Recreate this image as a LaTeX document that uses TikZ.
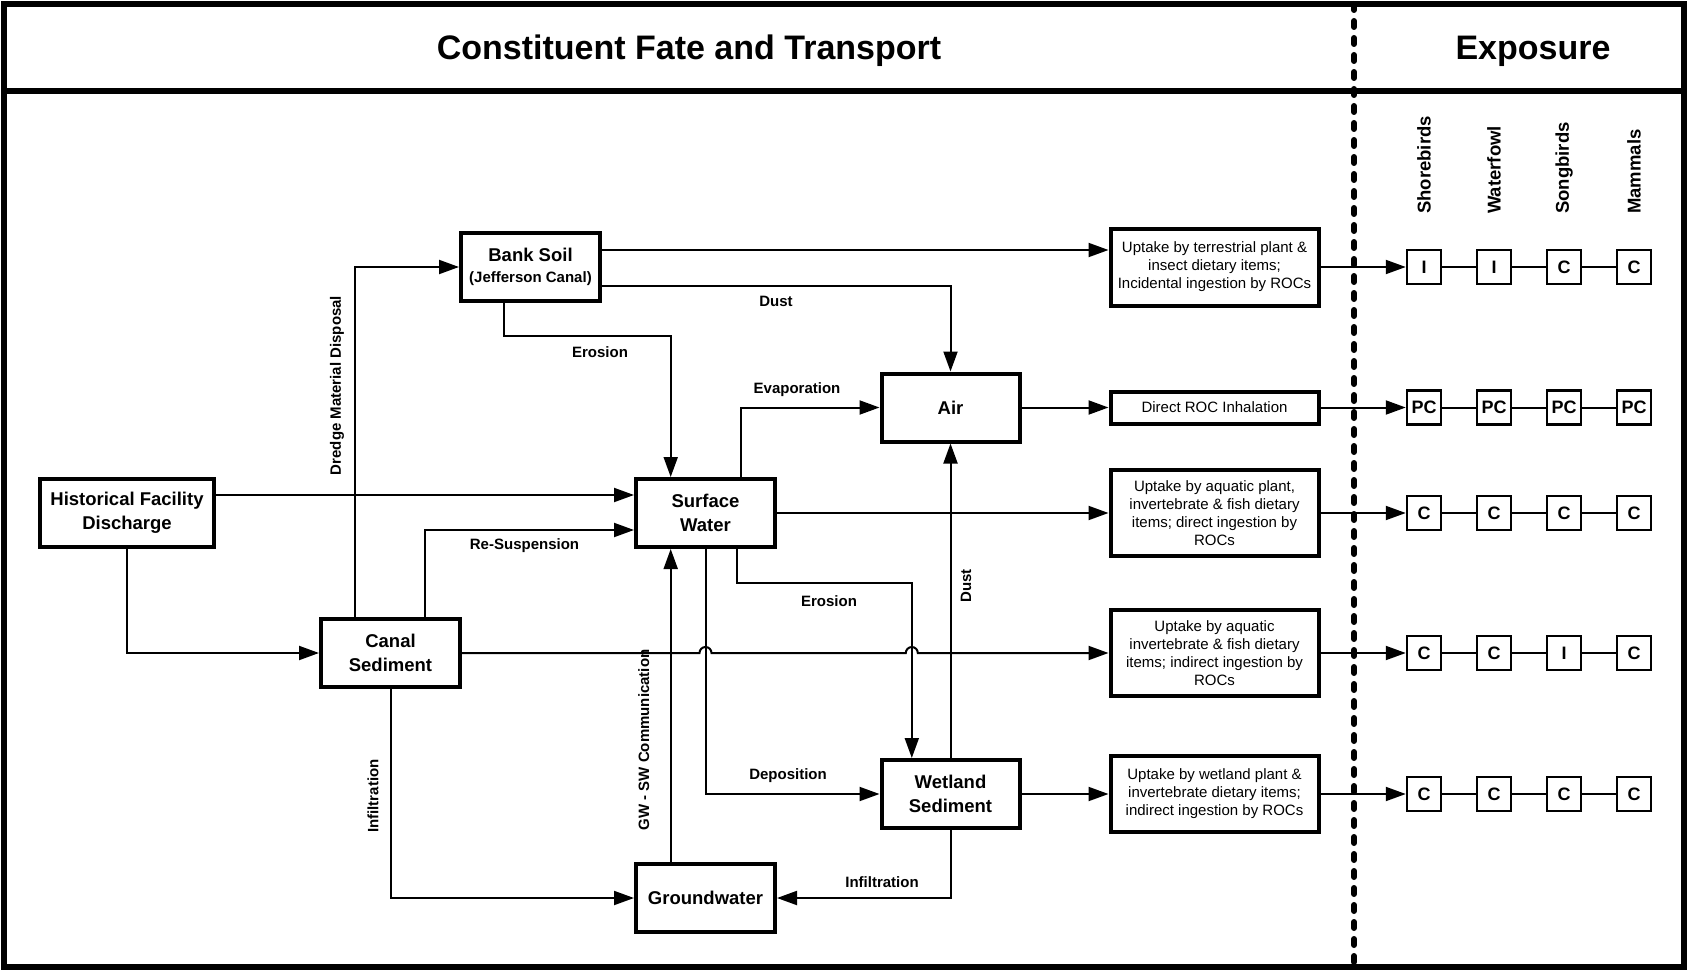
\documentclass[tikz,border=0pt]{standalone}
\usepackage{fontspec}
\setmainfont{Liberation Sans}
\usetikzlibrary{arrows.meta}
\tikzset{
  mbox/.style={draw, line width=4pt, font=\bfseries\fontsize{18.5}{23.5}\selectfont, align=center, inner sep=2pt, minimum width=139pt, minimum height=68pt},
  rbox/.style={draw, line width=4pt, font=\fontsize{15}{18}\selectfont, align=center, inner sep=2pt, minimum width=208pt},
  sbox/.style={draw, line width=2.5pt, font=\bfseries\fontsize{18}{20}\selectfont, inner sep=0pt, minimum size=34pt},
  conn/.style={line width=2pt, -{Triangle[length=20pt,width=14pt]}},
  plain/.style={line width=2pt},
  clab/.style={font=\bfseries\fontsize{15}{18}\selectfont, inner sep=0pt},
  rlab/.style={font=\bfseries\fontsize{15}{18}\selectfont, inner sep=0pt, rotate=90},
  slab/.style={font=\bfseries\fontsize{18.5}{20}\selectfont, inner sep=0pt, rotate=90, anchor=west},
  ttl/.style={font=\bfseries\fontsize{34}{40}\selectfont, inner sep=0pt}
}
\begin{document}
\begin{tikzpicture}[x=1pt,y=-1pt]
\useasboundingbox (0,0) rectangle (1688,971);
% frame
\draw[line width=6pt] (4,4) rectangle (1684,967);
\draw[line width=6pt] (4,91.5) -- (1684,91.5);
\draw[line width=6pt, line cap=round, dash pattern=on 6pt off 11pt] (1354,4) -- (1354,967);
\node[ttl] (t1) at (689,51) {Constituent Fate and Transport};
\node[ttl] (t2) at (1533,51) {Exposure};

% main boxes
\node[mbox] (bank) at (530.5,267) {Bank Soil\\[-3pt]{\fontsize{15}{18}\selectfont (Jefferson Canal)}};
\node[mbox, minimum width=174pt] (hfd) at (127,513) {Historical Facility\\Discharge};
\node[mbox] (sw) at (705.5,513) {Surface\\Water};
\node[mbox, minimum width=138pt] (air) at (950.5,407.5) {Air};
\node[mbox] (canal) at (390.5,653) {Canal\\Sediment};
\node[mbox, minimum width=138pt] (wet) at (950.5,794) {Wetland\\Sediment};
\node[mbox] (gw) at (705.5,898) {Groundwater};

% right boxes
\node[rbox, minimum height=77pt] (r1) at (1214.5,267) {Uptake by terrestrial plant \&\\insect dietary items;\\Incidental ingestion by ROCs};
\node[rbox, minimum height=32pt] (r2) at (1214.5,407.5) {Direct ROC Inhalation};
\node[rbox, minimum height=85.5pt] (r3) at (1214.5,513) {Uptake by aquatic plant,\\invertebrate \& fish dietary\\items; direct ingestion by\\ROCs};
\node[rbox, minimum height=85.5pt] (r4) at (1214.5,653) {Uptake by aquatic\\invertebrate \& fish dietary\\items; indirect ingestion by\\ROCs};
\node[rbox, minimum height=76.5pt] (r5) at (1214.5,794) {Uptake by wetland plant \&\\invertebrate dietary items;\\indirect ingestion by ROCs};

% species labels
\node[slab] (sp1) at (1424,214) {Shorebirds};
\node[slab] (sp2) at (1494,214) {Waterfowl};
\node[slab] (sp3) at (1564,214) {Songbirds};
\node[slab] (sp4) at (1634,214) {Mammals};

% small boxes
\foreach \r/\y/\a/\b/\c/\d in {1/267/I/I/C/C, 2/407.5/PC/PC/PC/PC, 3/513/C/C/C/C, 4/653/C/C/I/C, 5/794/C/C/C/C}{
  \node[sbox] (s\r a) at (1424,\y) {\a};
  \node[sbox] (s\r b) at (1494,\y) {\b};
  \node[sbox] (s\r c) at (1564,\y) {\c};
  \node[sbox] (s\r d) at (1634,\y) {\d};
  \draw[conn] (r\r.east) -- (s\r a.west);
  \draw[plain] (s\r a.east) -- (s\r b.west);
  \draw[plain] (s\r b.east) -- (s\r c.west);
  \draw[plain] (s\r c.east) -- (s\r d.west);
}

% connectors
\draw[conn] ([yshift=17pt]bank.east) -- ([yshift=17pt]r1.west);
\draw[conn] ([yshift=-18.5pt]bank.east) -| (air.north);
\coordinate (e1a) at (504,336);
\coordinate (e1b) at (670.7,336);
\draw[conn] ([xshift=-26.5pt]bank.south) -- (e1a) -- (e1b) -- ([xshift=-34.8pt]sw.north);
\draw[conn] ([yshift=18pt]hfd.east) -- ([yshift=18pt]sw.west);
\draw[conn] (hfd.south) |- (canal.west);
\draw[conn] ([xshift=-35.5pt]canal.north) |- (bank.west);
\draw[conn] ([xshift=34.5pt]canal.north) |- ([yshift=-17pt]sw.west);
\draw[conn] ([xshift=35pt]sw.north) |- (air.west);
\draw[conn] (air.east) -- (r2.west);
\draw[conn] (sw.east) -- (r3.west);
\draw[conn] (wet.north) -- (air.south);
\coordinate (e2a) at (736.5,582.5);
\coordinate (e2b) at (911.8,582.5);
\draw[conn] ([xshift=31pt]sw.south) -- (e2a) -- (e2b) -- ([xshift=-38.7pt]wet.north);
\draw[conn] (sw.south) |- (wet.west);
\coordinate (h1) at (699.5,653);
\coordinate (h2) at (905.8,653);
\draw[conn] (canal.east) -- (h1) arc[start angle=180, end angle=0, radius=6pt] -- (h2) arc[start angle=180, end angle=0, radius=6pt] -- (r4.west);
\draw[conn] (canal.south) |- (gw.west);
\draw[conn] ([xshift=-34.8pt]gw.north) -- ([xshift=-34.8pt]sw.south);
\draw[conn] (wet.south) |- (gw.east);
\draw[conn] (wet.east) -- (r5.west);

% labels
\node[clab] (l1) at (776,301.5) {Dust};
\node[clab] (l2) at (600,352) {Erosion};
\node[clab] (l3) at (524.5,546) {Re-Suspension};
\node[clab] (l4) at (797,390) {Evaporation};
\node[clab] (l5) at (829,601) {Erosion};
\node[clab] (l6) at (788,776) {Deposition};
\node[clab] (l7) at (882,882) {Infiltration};
\node[rlab] (l8) at (337,385.5) {Dredge Material Disposal};
\node[rlab] (l9) at (373,796) {Infiltration};
\node[rlab] (l10) at (643.8,740) {GW - SW Communication};
\node[rlab] (l11) at (966,586) {Dust};
\end{tikzpicture}
\end{document}
